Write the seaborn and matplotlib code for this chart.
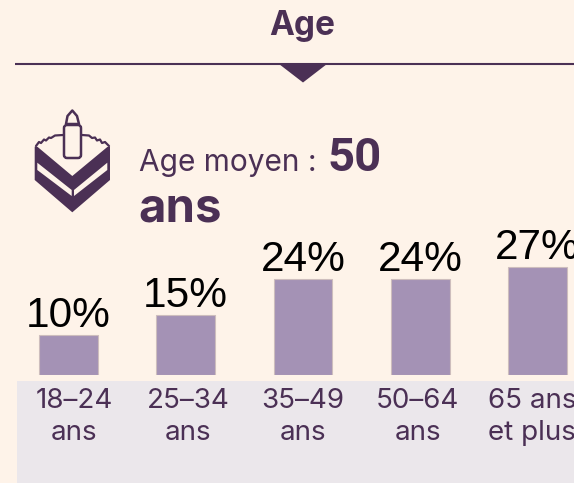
import matplotlib
matplotlib.use("Agg")
import matplotlib.pyplot as plt
from matplotlib.patches import Polygon, Rectangle, FancyBboxPatch
import seaborn as sns

categories = ["18–24\nans", "25–34\nans", "35–49\nans", "50–64\nans", "65 ans\net plus"]
values = [10, 15, 24, 24, 27]
labels = ["10%", "15%", "24%", "24%", "27%"]

W, H = 574, 483
BG = "#FEF3E9"
DARK = "#4B3055"
BAR = "#A492B5"
BAND = "#EBE7EB"

sns.set_theme(style="white")

fig = plt.figure(figsize=(W / 100, H / 100), dpi=100, facecolor=BG)

# overlay in pixel coords for the decoration
bg = fig.add_axes([0, 0, 1, 1], zorder=0)
bg.set_xlim(0, W)
bg.set_ylim(H, 0)
bg.axis("off")

bg.add_patch(Rectangle((17, 381), W - 17, H - 381, fc=BAND, ec="none"))
bg.plot([15, W], [63.5, 63.5], color=DARK, lw=1.5, solid_capstyle="butt")
bg.add_patch(Polygon([(279, 64), (327, 64), (303, 82.5)], fc=DARK, ec="none"))

bg.text(302, 35, "Age", ha="center", va="baseline", fontsize=24, fontweight="bold",
        family="Inter", color=DARK)
bg.text(139, 171, "Age moyen :", ha="left", va="baseline", fontsize=21.5,
        family="Inter", color=DARK)
bg.text(328, 171, "50", ha="left", va="baseline", fontsize=34, fontweight="bold",
        family="Roboto", color=DARK)
bg.text(138, 222, "ans", ha="left", va="baseline", fontsize=34, fontweight="bold",
        family="Inter", color=DARK)

# cake icon
bg.add_patch(Polygon([(34.7, 146.7), (34.7, 180), (72.3, 212.3), (110, 180), (110, 146.7)],
                     fc=DARK, ec="none"))
bg.add_patch(Polygon([(36.5, 146), (49, 137), (95, 137), (108.5, 146), (72.3, 176)],
                     fc=BG, ec="none"))
bg.plot([36, 39, 41, 44, 46, 49, 51, 55, 63], [146, 142, 143, 139.5, 140.5, 137.5, 138, 135.5, 135],
        color=DARK, lw=1.6)
bg.plot([82, 89, 92, 95, 97, 100, 102, 105, 109], [135, 135.5, 138, 137.5, 140.5, 139.5, 143, 142, 146],
        color=DARK, lw=1.6)
bg.add_patch(Polygon([(37.3, 162.7), (71.7, 190), (71.7, 196), (37.3, 170)], fc=BG, ec="none"))
bg.add_patch(Polygon([(74, 190), (107.3, 162.7), (107.3, 170), (74, 196)], fc=BG, ec="none"))
bg.add_patch(FancyBboxPatch((64, 125), 17, 33, boxstyle="round,pad=0,rounding_size=3",
                            fc=BG, ec=DARK, lw=1.8))
bg.add_patch(Polygon([(66, 124), (67.5, 116), (72.3, 110.5), (77, 116), (79, 124)],
                     fc=BG, ec=DARK, lw=1.8, joinstyle="round"))

# bar axes: 117.25 px per category, 4 px per percent, baseline at y=375
x0 = 68.5 - 117.25 / 2
ax = fig.add_axes([x0 / W, (H - 375) / H, (W - x0) / W, 155 / H], zorder=1)
ax.patch.set_alpha(0)
sns.barplot(x=categories, y=values, color=BAR, saturation=1, width=0.503,
            edgecolor="#CDBDBD", linewidth=0.8, ax=ax)
ax.set_xlim(-0.5, (W - 68.5) / 117.25)
ax.set_ylim(0, 155 / 4)
ax.set_yticks([])
# the labels sit a bit closer together than the bars
ax.set_xticks([0.047, 1.02, 2, 2.98, 3.955], categories)
ax.tick_params(axis="x", length=0, pad=9, labelsize=20, labelcolor=DARK)
for t in ax.get_xticklabels():
    t.set_family("Inter")
    t.set_linespacing(1.3)
sns.despine(ax=ax, left=True, bottom=True)

for i, v in enumerate(values):
    ax.annotate(labels[i], (i, v), xytext=(0, 6), textcoords="offset points",
                ha="center", va="baseline", fontsize=30.5, family="Liberation Sans",
                color="black", annotation_clip=False)

fig.savefig("out.png", dpi=100, facecolor=BG)
